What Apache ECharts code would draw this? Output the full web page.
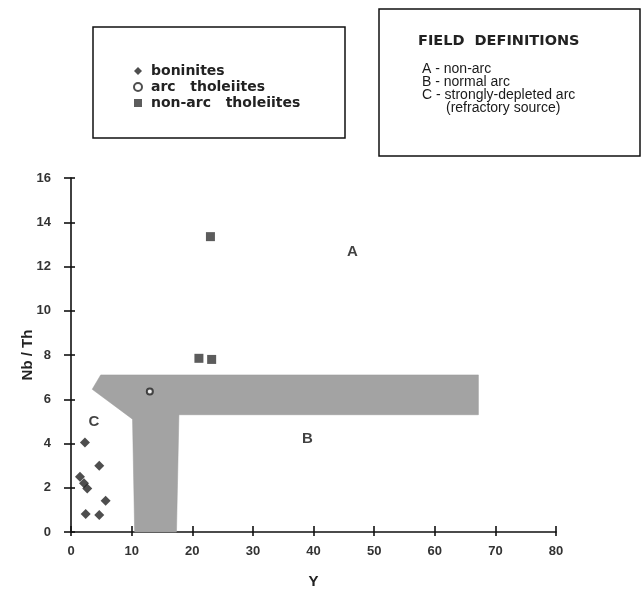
<!DOCTYPE html>
<html><head><meta charset="utf-8">
<script src="https://cdn.jsdelivr.net/npm/echarts@6/dist/echarts.min.js"></script>
<style>html,body{margin:0;padding:0;background:#fff}#c{width:644px;height:595px}</style>
</head><body><div id="c"></div><script>
// ---- data ----
const boninites = [[2.3,4.04],[4.66,3.0],[1.48,2.5],[2.14,2.2],[2.68,1.97],[5.71,1.41],[2.42,0.81],[4.66,0.77]];
const arcTholeiites = [[13.0,6.35]];
const nonArcTholeiites = [[23.0,13.35],[21.1,7.85],[23.2,7.8]];
const fieldPolygon = [[4.9,7.1],[67.2,7.1],[67.2,5.3],[17.8,5.3],[17.4,0],[10.5,0],[10.15,5.1],[3.5,6.45]];
const fieldLabels = [['A',46.4,12.67],['B',39.0,4.19],['C',3.8,4.99]];
const seriesNames = ['boninites','arc   tholeiites','non-arc   tholeiites'];
const fieldDefTitle = 'FIELD  DEFINITIONS';
const fieldDefLines = ['A - non-arc','B - normal arc','C - strongly-depleted arc','(refractory source)'];
const xTitle = 'Y', yTitle = 'Nb / Th';

const chart = echarts.init(document.getElementById('c'), null, {renderer:'canvas'});
const axFont = {fontFamily:'Liberation Sans', fontWeight:'bold', fontSize:13, color:'#333'};
const xBase = {type:'value', min:0, max:80, interval:10, gridIndex:0, splitLine:{show:false}};
const yBase = {type:'value', min:0, max:16, interval:2, gridIndex:0, splitLine:{show:false}};
chart.setOption({
  animation:false,
  backgroundColor:'#fff',
  grid:{left:71, right:88, top:178, bottom:63},
  xAxis:[
    Object.assign({}, xBase, {
      name:xTitle, nameLocation:'middle', nameGap:42, nameMoveOverlap:false,
      nameTextStyle:{fontFamily:'Liberation Sans', fontWeight:'bold', fontSize:15, color:'#222'},
      axisLine:{show:true, onZero:false, lineStyle:{color:'#111', width:1.6}},
      axisTick:{show:true, inside:false, length:4, lineStyle:{color:'#111', width:1.6}},
      axisLabel:Object.assign({margin:13}, axFont)
    }),
    Object.assign({}, xBase, {
      position:'bottom',
      axisLine:{show:false},
      axisTick:{show:true, inside:true, length:6, lineStyle:{color:'#111', width:1.6}},
      axisLabel:{show:false}
    })
  ],
  yAxis:[
    Object.assign({}, yBase, {
      name:yTitle, nameLocation:'middle', nameGap:36, nameRotate:90, nameMoveOverlap:false,
      nameTextStyle:{fontFamily:'Liberation Sans', fontWeight:'bold', fontSize:15, color:'#222'},
      axisLine:{show:true, onZero:false, lineStyle:{color:'#111', width:1.6}},
      axisTick:{show:true, inside:false, length:7, lineStyle:{color:'#111', width:1.6}},
      axisLabel:Object.assign({margin:20}, axFont)
    }),
    Object.assign({}, yBase, {
      position:'left',
      axisLine:{show:false},
      axisTick:{show:true, inside:true, length:4, lineStyle:{color:'#111', width:1.6}},
      axisLabel:{show:false}
    })
  ],
  legend:{
    data:seriesNames, orient:'vertical', left:133, top:64, itemGap:2, padding:0,
    itemWidth:8, itemHeight:8,
    textStyle:{fontFamily:'DejaVu Sans', fontWeight:'bold', fontSize:14, color:'#222', padding:[0,0,0,4]}
  },
  graphic:[
    {type:'rect', shape:{x:93, y:27, width:252, height:111}, style:{fill:'none', stroke:'#111', lineWidth:1.5}, z:100},
    {type:'rect', shape:{x:379, y:9, width:261, height:147}, style:{fill:'none', stroke:'#111', lineWidth:1.5}, z:100},
    {type:'text', left:418, top:34, style:{text:fieldDefTitle, font:'bold 14.5px "DejaVu Sans"', fill:'#222'}, z:100},
    {type:'text', left:422, top:62, style:{text:fieldDefLines[0], font:'14px "Liberation Sans"', fill:'#1a1a1a'}, z:100},
    {type:'text', left:422, top:75, style:{text:fieldDefLines[1], font:'14px "Liberation Sans"', fill:'#1a1a1a'}, z:100},
    {type:'text', left:422, top:88, style:{text:fieldDefLines[2], font:'14px "Liberation Sans"', fill:'#1a1a1a'}, z:100},
    {type:'text', left:446, top:101, style:{text:fieldDefLines[3], font:'14px "Liberation Sans"', fill:'#1a1a1a'}, z:100}
  ],
  series:[
    {
      type:'custom', name:'field', silent:true, z:1,
      data:[[0,0]],
      renderItem:function(params, api){
        const pts = fieldPolygon.map(p => api.coord(p));
        return {type:'polygon', shape:{points:pts}, style:{fill:'#a3a3a3', stroke:'#9a9a9a', lineWidth:0.5}};
      }
    },
    {name:seriesNames[0], type:'scatter', symbol:'diamond', symbolSize:10, data:boninites, z:5,
     itemStyle:{color:'#222'}},
    {name:seriesNames[1], type:'scatter', symbol:'emptyCircle', symbolSize:6, data:arcTholeiites, z:5,
     itemStyle:{color:'#222', borderWidth:1.5}},
    {name:seriesNames[2], type:'scatter', symbol:'rect', symbolSize:9, data:nonArcTholeiites, z:5,
     itemStyle:{color:'#333'}},
    {name:'labels', type:'scatter', symbolSize:1, z:6, silent:true,
     itemStyle:{color:'rgba(0,0,0,0)'},
     data:fieldLabels.map(d => ({name:d[0], value:[d[1], d[2]]})),
     label:{show:true, position:'inside', formatter:'{b}', fontFamily:'Liberation Sans', fontWeight:'bold', fontSize:15, color:'#111'}}
  ]
});
</script></body></html>
